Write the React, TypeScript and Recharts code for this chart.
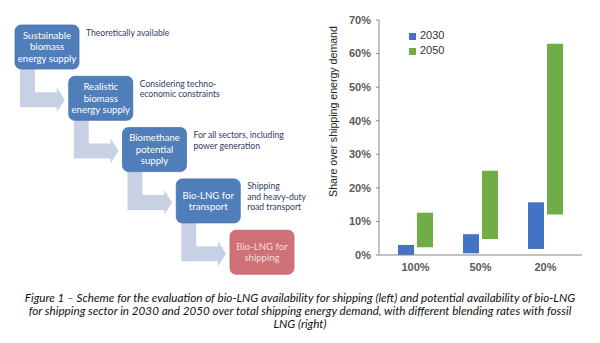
import React from 'react';
import { BarChart, Bar, XAxis, YAxis, Legend } from 'recharts';

// ---- Chart data (right) ----
const categories = ['100%', '50%', '20%'];
const low2030 = [0, 0.5, 1.8];
const high2030 = [3.0, 6.2, 15.7];
const low2050 = [2.3, 4.8, 12.1];
const high2050 = [12.6, 25.1, 62.9];
const yTicks = [0, 10, 20, 30, 40, 50, 60, 70];

// ---- Scheme data (left) ----
const steps = [
  ['Sustainable', 'biomass', 'energy supply'],
  ['Realistic', 'biomass', 'energy supply'],
  ['Biomethane', 'potential', 'supply'],
  ['Bio-LNG for', 'transport'],
  ['Bio-LNG for', 'shipping'],
];
const notes = [
  ['Theoretically available'],
  ['Considering techno-', 'economic constraints'],
  ['For all sectors, including', 'power generation'],
  ['Shipping', 'and heavy-duty', 'road transport'],
  [],
];

const captionLines = [
  'Figure 1 \u2013 Scheme for the evaluation of bio-LNG availability for shipping (left) and potential availability of bio-LNG',
  'for shipping sector in 2030 and 2050 over total shipping energy demand, with different blending rates with fossil',
  'LNG (right)',
];

const data = categories.map((c, i) => ({
  cat: c,
  y2030: [low2030[i], high2030[i]],
  y2050: [low2050[i], high2050[i]],
}));

const BOX_W = 64;
const BOX_H = 44;
const boxX = (i: number) => 15 + i * 53.75;
const boxY = (i: number) => 25 + i * 51.3;

function Scheme() {
  const font = 'Lato, "Open Sans", sans-serif';
  return (
    <svg width={330} height={285} style={{ position: 'absolute', left: 0, top: 0 }}>
      {steps.slice(0, -1).map((_, i) => {
        const bx = boxX(i);
        const by = boxY(i);
        const nbx = boxX(i + 1);
        const nby = boxY(i + 1);
        const pts = [
          [bx + 5, by + BOX_H - 2],
          [bx + 20, by + BOX_H - 2],
          [bx + 20, nby + 16],
          [nbx - 12, nby + 16],
          [nbx - 12, nby + 11],
          [nbx - 4, nby + 23.5],
          [nbx - 12, nby + 36],
          [nbx - 12, nby + 31],
          [bx + 5, nby + 31],
        ]
          .map((p) => p.join(','))
          .join(' ');
        return <polygon key={'a' + i} points={pts} fill="#C7D1E3" />;
      })}
      {steps.map((lines, i) => {
        const bx = boxX(i);
        const by = boxY(i);
        const last = i === steps.length - 1;
        const lh = 11.5;
        const cy = by + BOX_H / 2;
        const start = cy - ((lines.length - 1) * lh) / 2;
        return (
          <g key={'b' + i}>
            <rect
              x={bx}
              y={by}
              width={BOX_W}
              height={BOX_H}
              rx={6}
              fill={last ? '#CF7176' : '#4F7EBA'}
              stroke={last ? '#C46268' : '#4473B0'}
              strokeWidth={0.8}
            />
            {lines.map((t, k) => (
              <text
                key={k}
                x={bx + BOX_W / 2}
                y={start + k * lh}
                dy="0.35em"
                textAnchor="middle"
                fontFamily={font}
                fontSize={9.6}
                fill={last ? '#F6DEDF' : '#FFFFFF'}
              >
                {t}
              </text>
            ))}
            {notes[i].map((t, k) => (
              <text
                key={'n' + k}
                x={bx + BOX_W + 7}
                y={by + 7.5 + k * 10.5}
                dy="0.35em"
                fontFamily={font}
                fontSize={8.6}
                fill="#2E3B66"
              >
                {t}
              </text>
            ))}
          </g>
        );
      })}
    </svg>
  );
}

const AxisTitle = (props: any) => {
  const vb = props.viewBox || {};
  const cx = vb.x + 13;
  const cy = vb.y + vb.height / 2 - 26;
  return (
    <text
      x={cx}
      y={cy}
      transform={`rotate(-90, ${cx}, ${cy})`}
      textAnchor="middle"
      dominantBaseline="central"
      fontFamily="'Liberation Sans', Arial, sans-serif"
      fontSize={10.6}
      fill="#222"
    >
      Share over shipping energy demand
    </text>
  );
};

export default function App() {
  const tickStyle = {
    fontFamily: "'Liberation Sans', Arial, sans-serif",
    fontSize: 11,
    fontWeight: 700,
    fill: '#595959',
  };
  return (
    <div
      style={{
        position: 'absolute',
        left: 0,
        top: 0,
        width: 600,
        height: 343,
        background: '#fff',
        overflow: 'hidden',
      }}
    >
      <Scheme />
      <div style={{ position: 'absolute', left: 320, top: 0 }}>
        <BarChart
          width={270}
          height={290}
          data={data}
          margin={{ top: 20, right: 8, bottom: 5, left: 0 }}
          barSize={16}
          barGap={3}
        >
          <XAxis
            dataKey="cat"
            tick={tickStyle}
            tickLine={false}
            axisLine={{ stroke: '#868686' }}
            padding={{ left: 4, right: 4 }}
            height={30}
          />
          <YAxis
            domain={[0, 70]}
            ticks={yTicks}
            tickFormatter={(v: number) => `${v}%`}
            tick={tickStyle}
            tickSize={3}
            tickMargin={5}
            tickLine={{ stroke: '#868686' }}
            axisLine={{ stroke: '#868686' }}
            width={59}
            interval={0}
            label={<AxisTitle />}
          />
          <Legend
            layout="vertical"
            verticalAlign="middle"
            align="center"
            iconType="square"
            iconSize={7}
            wrapperStyle={{
              top: 28,
              left: 89,
              width: 60,
              textAlign: 'left',
              fontFamily: "'Liberation Sans', Arial, sans-serif",
              fontSize: 11,
              lineHeight: '15px',
            }}
            formatter={(v: string) => <span style={{ color: '#333' }}>{v}</span>}
          />
          <Bar dataKey="y2030" name="2030" fill="#4472C4" isAnimationActive={false} />
          <Bar dataKey="y2050" name="2050" fill="#70AD47" isAnimationActive={false} />
        </BarChart>
      </div>
      <div
        style={{
          position: 'absolute',
          left: 0,
          top: 291,
          width: 600,
          textAlign: 'center',
          fontFamily: 'Lato, "Open Sans", sans-serif',
          fontStyle: 'italic',
          fontSize: 11.7,
          lineHeight: '13px',
          color: '#111',
        }}
      >
        {captionLines.map((l, i) => (
          <div key={i} style={{ whiteSpace: 'nowrap' }}>
            {l}
          </div>
        ))}
      </div>
    </div>
  );
}
